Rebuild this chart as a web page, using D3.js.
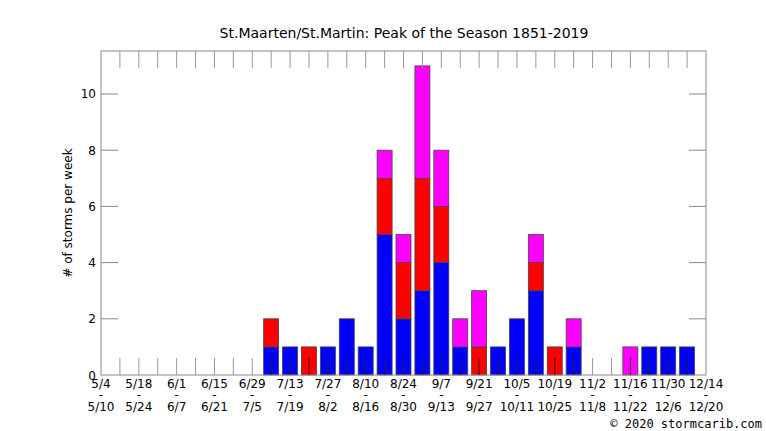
<!DOCTYPE html>
<html>
<head>
<meta charset="UTF-8">
<title>St.Maarten/St.Martin: Peak of the Season</title>
<script src="https://d3js.org/d3.v7.min.js"></script>
<style>
  body { margin: 0; background: #fff; }
  svg text { font-family: "DejaVu Sans", sans-serif; fill: #000; }
  .copy { font-family: "DejaVu Sans Mono", monospace; }
</style>
</head>
<body>
<script>
// week index 0 = 5/4 ... 32 = 12/14
var weekStarts = ["5/4","5/18","6/1","6/15","6/29","7/13","7/27","8/10","8/24","9/7","9/21","10/5","10/19","11/2","11/16","11/30","12/14"];
var weekEnds   = ["5/10","5/24","6/7","6/21","7/5","7/19","8/2","8/16","8/30","9/13","9/27","10/11","10/25","11/8","11/22","12/6","12/20"];
var weekCount = 33;

// storms per week, stacked bottom to top
var blueCounts    = [0,0,0,0,0,0,0,0,0,1,1,0,1,2,1,5,2,3,4,1,0,1,2,3,0,1,0,0,0,1,1,1,0];
var redCounts     = [0,0,0,0,0,0,0,0,0,1,0,1,0,0,0,2,2,4,2,0,1,0,0,1,1,0,0,0,0,0,0,0,0];
var magentaCounts = [0,0,0,0,0,0,0,0,0,0,0,0,0,0,0,1,1,4,2,1,2,0,0,1,0,1,0,0,1,0,0,0,0];
var yTicks = [0,2,4,6,8,10];

var width = 766, height = 431;
var plotL = 101, plotR = 706, plotT = 51, plotB = 375;

var svg = d3.select("body").append("svg")
    .attr("width", width)
    .attr("height", height);

var x = d3.scaleLinear().domain([0, weekCount - 1]).range([plotL, plotR]);
var y = d3.scaleLinear().domain([0, 11.53]).range([plotB, plotT]);

var rows = d3.range(weekCount).map(function(i) {
  return { week: i, blue: blueCounts[i], red: redCounts[i], magenta: magentaCounts[i] };
});
var stack = d3.stack().keys(["blue", "red", "magenta"])(rows);
var colors = { blue: "#0000ff", red: "#ff0000", magenta: "#ff00ff" };
var barW = 15;

svg.append("g").selectAll("g")
  .data(stack)
  .join("g")
    .attr("fill", function(d) { return colors[d.key]; })
  .selectAll("rect")
  .data(function(d) { return d.filter(function(p) { return p[1] > p[0]; }); })
  .join("rect")
    .attr("x", function(d) { return x(d.data.week) - barW / 2; })
    .attr("y", function(d) { return y(d[1]); })
    .attr("width", barW)
    .attr("height", function(d) { return y(d[0]) - y(d[1]); })
    .attr("stroke", "#444")
    .attr("stroke-width", 0.8);

// frame
svg.append("rect")
  .attr("x", plotL).attr("y", plotT)
  .attr("width", plotR - plotL).attr("height", plotB - plotT)
  .attr("fill", "none").attr("stroke", "#8a8a8a").attr("stroke-width", 1);

// week ticks, bottom and top
var weeks = d3.range(1, weekCount - 1);
var totals = rows.map(function(r) { return r.blue + r.red + r.magenta; });
svg.append("g").selectAll("line")
  .data(weeks)
  .join("line")
    .attr("x1", function(d) { return x(d); })
    .attr("x2", function(d) { return x(d); })
    .attr("y1", plotB)
    .attr("y2", plotB - 17)
    .attr("stroke", function(d) { return totals[d] > 0 ? "#222" : "#999"; })
    .attr("stroke-width", 1);
svg.append("g").selectAll("line")
  .data(weeks)
  .join("line")
    .attr("x1", function(d) { return x(d); })
    .attr("x2", function(d) { return x(d); })
    .attr("y1", plotT)
    .attr("y2", plotT + 17)
    .attr("stroke", "#999")
    .attr("stroke-width", 1);

// y ticks left and right
var yt = svg.append("g");
yt.selectAll("line.l")
  .data(yTicks.slice(1))
  .join("line").attr("class", "l")
    .attr("x1", plotL).attr("x2", plotL + 17)
    .attr("y1", function(d) { return y(d); }).attr("y2", function(d) { return y(d); })
    .attr("stroke", "#8a8a8a");
yt.selectAll("line.r")
  .data(yTicks.slice(1))
  .join("line").attr("class", "r")
    .attr("x1", plotR).attr("x2", plotR - 17)
    .attr("y1", function(d) { return y(d); }).attr("y2", function(d) { return y(d); })
    .attr("stroke", "#8a8a8a");
yt.selectAll("text")
  .data(yTicks)
  .join("text")
    .attr("x", plotL - 5)
    .attr("y", function(d) { return y(d) + 4.5; })
    .attr("text-anchor", "end")
    .attr("font-size", 12)
    .text(function(d) { return d; });

// x labels, every two weeks
var xl = svg.append("g").selectAll("g")
  .data(weekStarts)
  .join("g")
    .attr("transform", function(d, i) { return "translate(" + x(i * 2) + ",0)"; });
xl.append("text").attr("y", 388).attr("text-anchor", "middle").attr("font-size", 12)
  .text(function(d) { return d; });
xl.append("text").attr("y", 399).attr("text-anchor", "middle").attr("font-size", 12)
  .text("-");
xl.append("text").attr("y", 411).attr("text-anchor", "middle").attr("font-size", 12)
  .text(function(d, i) { return weekEnds[i]; });

svg.append("text")
  .attr("x", 404).attr("y", 38)
  .attr("text-anchor", "middle")
  .attr("font-size", 14)
  .text("St.Maarten/St.Martin: Peak of the Season 1851-2019");

svg.append("text")
  .attr("transform", "translate(72,213) rotate(-90)")
  .attr("text-anchor", "middle")
  .attr("font-size", 12)
  .text("# of storms per week");

svg.append("text")
  .attr("class", "copy")
  .attr("x", 762).attr("y", 428)
  .attr("text-anchor", "end")
  .attr("font-size", 12)
  .text("\u00a9 2020 stormcarib.com");
</script>
</body>
</html>
